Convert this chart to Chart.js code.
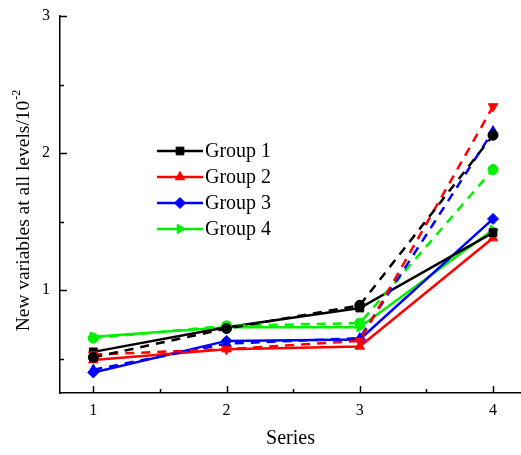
<!DOCTYPE html>
<html>
<head>
<meta charset="utf-8">
<script src="https://cdn.jsdelivr.net/npm/chart.js@4/dist/chart.umd.min.js"></script>
<style>
html,body{margin:0;padding:0;background:#fff;overflow:hidden;}
#wrap{width:521px;height:455px;position:relative;}
</style>
</head>
<body>
<div id="wrap"><canvas id="c" width="521" height="455"></canvas></div>
<script>
const categories = [1, 2, 3, 4];
const xTickLabels = ["1", "2", "3", "4"];
const yTickValues = [1, 2, 3];
const groupNames = ["Group 1", "Group 2", "Group 3", "Group 4"];
const xTitle = "Series";
const yTitleMain = "New variables at all levels/10";
const yTitleSup = "-2";

const group1Solid  = [0.55, 0.73, 0.87, 1.42];
const group1Dashed = [0.51, 0.72, 0.89, 2.13];
const group2Solid  = [0.49, 0.57, 0.59, 1.38];
const group2Dashed = [0.53, 0.57, 0.63, 2.34];
const group3Solid  = [0.40, 0.63, 0.64, 1.52];
const group3Dashed = [0.42, 0.61, 0.65, 2.16];
const group4Solid  = [0.66, 0.73, 0.73, 1.44];
const group4Dashed = [0.65, 0.74, 0.76, 1.88];

const colors = ["#000000", "#ff0000", "#0000ff", "#00f000"];
const solidSeries = [group1Solid, group2Solid, group3Solid, group4Solid];
const dashedSeries = [group1Dashed, group2Dashed, group3Dashed, group4Dashed];
const solidStyles = [
  {style: "rect", rot: 0, r: 5.5},
  {style: "triangle", rot: 0, r: 5.5},
  {style: "rectRot", rot: 0, r: 5.5},
  {style: "triangle", rot: 90, r: 5.5}
];
const dashedStyles = [
  {style: "circle", rot: 0, r: 5},
  {style: "triangle", rot: 180, r: 5.5},
  {style: "triangle", rot: 0, r: 5.5},
  {style: "circle", rot: 0, r: 5}
];

const toPts = arr => categories.map((c, i) => ({x: c, y: arr[i]}));

const datasets = [];
for (let g = 0; g < 4; g++) {
  datasets.push({
    label: groupNames[g] + " (dashed)",
    data: toPts(dashedSeries[g]),
    borderColor: colors[g], backgroundColor: colors[g],
    borderWidth: 2.5, borderDash: [9, 7],
    pointStyle: dashedStyles[g].style, pointRotation: dashedStyles[g].rot,
    pointRadius: dashedStyles[g].r, pointBorderWidth: 1,
    tension: 0, fill: false, clip: false
  });
}
for (let g = 0; g < 4; g++) {
  datasets.push({
    label: groupNames[g],
    data: toPts(solidSeries[g]),
    borderColor: colors[g], backgroundColor: colors[g],
    borderWidth: 2.5,
    pointStyle: solidStyles[g].style, pointRotation: solidStyles[g].rot,
    pointRadius: solidStyles[g].r, pointBorderWidth: 1,
    tension: 0, fill: false, clip: false
  });
}

const serif = '"Liberation Serif", "Times New Roman", serif';

const decor = {
  id: "decor",
  afterDraw(chart) {
    const ctx = chart.ctx;
    const xs = chart.scales.x, ys = chart.scales.y;
    const a = chart.chartArea;
    ctx.save();
    ctx.strokeStyle = "#000";
    ctx.lineWidth = 1.5;
    // x ticks (inward)
    [1, 2, 3, 4].forEach(v => {
      const px = Math.round(xs.getPixelForValue(v)) + 0.5;
      ctx.beginPath(); ctx.moveTo(px, a.bottom); ctx.lineTo(px, a.bottom - 7); ctx.stroke();
    });
    [1.5, 2.5, 3.5].forEach(v => {
      const px = Math.round(xs.getPixelForValue(v)) + 0.5;
      ctx.beginPath(); ctx.moveTo(px, a.bottom); ctx.lineTo(px, a.bottom - 4); ctx.stroke();
    });
    [1, 2, 3].forEach(v => {
      const py = Math.round(ys.getPixelForValue(v)) + 0.5;
      ctx.beginPath(); ctx.moveTo(a.left, py); ctx.lineTo(a.left + 7, py); ctx.stroke();
    });
    [0.5, 1.5, 2.5].forEach(v => {
      const py = Math.round(ys.getPixelForValue(v)) + 0.5;
      ctx.beginPath(); ctx.moveTo(a.left, py); ctx.lineTo(a.left + 4, py); ctx.stroke();
    });
    // y title with superscript
    ctx.fillStyle = "#000";
    ctx.translate(29, 211);
    ctx.rotate(-Math.PI / 2);
    ctx.font = "19.5px " + serif;
    ctx.textBaseline = "alphabetic";
    ctx.textAlign = "left";
    const wMain = ctx.measureText(yTitleMain).width;
    ctx.font = "12px " + serif;
    const wSup = ctx.measureText(yTitleSup).width;
    const start = -(wMain + wSup) / 2;
    ctx.font = "19.5px " + serif;
    ctx.fillText(yTitleMain, start, 0);
    ctx.font = "12px " + serif;
    ctx.fillText(yTitleSup, start + wMain + 1, -9);
    ctx.setTransform(1, 0, 0, 1, 0, 0);
    // legend
    const lx0 = 157, lx1 = 203, ly0 = 151, step = 26;
    for (let g = 0; g < 4; g++) {
      const y = ly0 + g * step;
      ctx.strokeStyle = colors[g];
      ctx.fillStyle = colors[g];
      ctx.lineWidth = 2.5;
      ctx.setLineDash([]);
      ctx.beginPath(); ctx.moveTo(lx0, y); ctx.lineTo(lx1, y); ctx.stroke();
      ctx.lineWidth = 1;
      Chart.helpers.drawPoint(ctx, {pointStyle: solidStyles[g].style, rotation: solidStyles[g].rot, radius: solidStyles[g].r, borderWidth: 1}, (lx0 + lx1) / 2, y);
      ctx.fillStyle = "#000";
      ctx.font = "20px " + serif;
      ctx.textBaseline = "middle";
      ctx.textAlign = "left";
      ctx.fillText(groupNames[g], lx1 + 2, y + 1);
    }
    ctx.restore();
  }
};

new Chart(document.getElementById("c"), {
  type: "line",
  data: {datasets},
  plugins: [decor],
  options: {
    responsive: false,
    animation: false,
    layout: {autoPadding: false, padding: {top: 16, right: 0, left: 0, bottom: 0}},
    plugins: {legend: {display: false}, tooltip: {enabled: false}},
    scales: {
      x: {
        type: "linear", min: 0.75, max: 4.21,
        afterBuildTicks: s => { s.ticks = categories.map(v => ({value: v})); },
        afterFit: s => { s.height = 62; s.paddingRight = 0; s.paddingLeft = 0; },
        ticks: {
          callback: (v) => { const i = categories.indexOf(v); return i >= 0 ? xTickLabels[i] : ""; },
          color: "#000", font: {family: serif, size: 16}, padding: 8, maxRotation: 0, autoSkip: false
        },
        grid: {display: false, drawTicks: false},
        border: {display: true, color: "#000", width: 1.5},
        title: {display: true, text: xTitle, color: "#000", font: {family: serif, size: 20}, padding: {top: 0, bottom: 4}}
      },
      y: {
        type: "linear", min: 0.25, max: 3,
        afterBuildTicks: s => { s.ticks = yTickValues.map(v => ({value: v})); },
        afterFit: s => { s.width = 60; s.paddingTop = 0; s.paddingBottom = 0; },
        ticks: {color: "#000", font: {family: serif, size: 16}, padding: 10, callback: v => String(v)},
        grid: {display: false, drawTicks: false},
        border: {display: true, color: "#000", width: 1.5},
        title: {display: false}
      }
    }
  }
});
</script>
</body>
</html>
